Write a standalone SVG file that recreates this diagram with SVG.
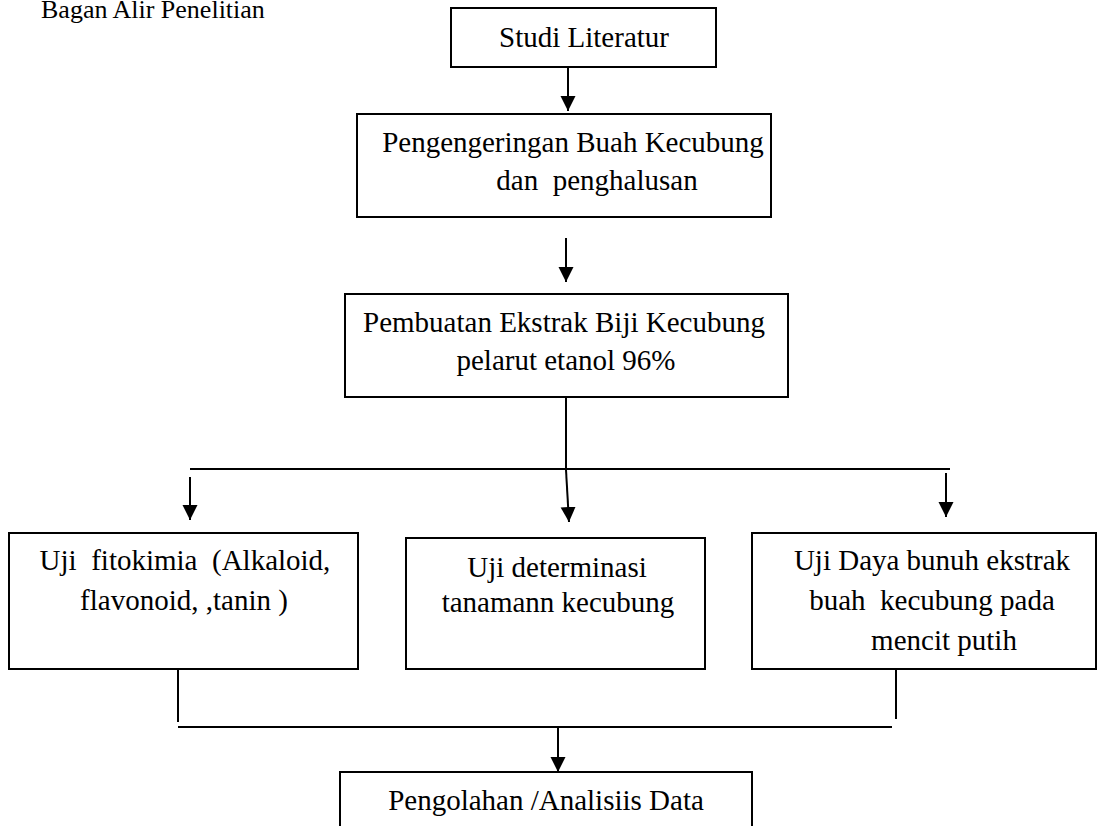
<svg xmlns="http://www.w3.org/2000/svg" width="1101" height="826" viewBox="0 0 1101 826">
<style>
text{font-family:"Liberation Serif","Times New Roman",serif;fill:#000;font-size:29px;text-anchor:middle}
.title{font-size:26px;text-anchor:start}
rect{fill:#fff;stroke:#000;stroke-width:2}
.c line{stroke:#000;stroke-width:2}
</style>
<defs>
<marker id="ah" markerUnits="userSpaceOnUse" markerWidth="16" markerHeight="16" refX="15" refY="7.5" orient="auto">
<path d="M0,0 L15,7.5 L0,15 Z" fill="#000"/>
</marker>
</defs>
<rect x="0" y="0" width="1101" height="826" style="stroke:none;fill:#fff"/>
<text class="title" x="41" y="18">Bagan Alir Penelitian</text>
<g class="c" id="connectors">
<line x1="568" y1="67" x2="568" y2="111" marker-end="url(#ah)"/>
<line x1="566" y1="238" x2="566" y2="282" marker-end="url(#ah)"/>
<line x1="566" y1="397" x2="566" y2="469"/>
<line x1="190" y1="469" x2="950" y2="469"/>
<line x1="190" y1="477" x2="190" y2="520" marker-end="url(#ah)"/>
<line x1="566" y1="470" x2="569" y2="522" marker-end="url(#ah)"/>
<line x1="946" y1="473" x2="946" y2="517" marker-end="url(#ah)"/>
<line x1="178" y1="669" x2="178" y2="722"/>
<line x1="896" y1="667" x2="896" y2="719"/>
<line x1="178" y1="727" x2="892" y2="727"/>
<line x1="558" y1="727" x2="558" y2="772" marker-end="url(#ah)"/>
</g>
<g id="n1"><rect x="451" y="8" width="265" height="59"/><text x="584" y="47">Studi Literatur</text></g>
<g id="n2"><rect x="357" y="114" width="414" height="103"/><text x="573" y="152">Pengengeringan Buah Kecubung</text><text x="597" y="190" xml:space="preserve">dan  penghalusan</text></g>
<g id="n3"><rect x="345" y="294" width="443" height="103"/><text x="564" y="332">Pembuatan Ekstrak Biji Kecubung</text><text x="566" y="370">pelarut etanol 96%</text></g>
<g id="n4"><rect x="9" y="533" width="349" height="136"/><text x="185" y="570" xml:space="preserve">Uji  fitokimia  (Alkaloid,</text><text x="184" y="610">flavonoid, ,tanin )</text></g>
<g id="n5"><rect x="406" y="538" width="299" height="131"/><text x="557" y="577">Uji determinasi</text><text x="558" y="612">tanamann kecubung</text></g>
<g id="n6"><rect x="752" y="533" width="344" height="136"/><text x="932" y="570">Uji Daya bunuh ekstrak</text><text x="932" y="610" xml:space="preserve">buah  kecubung pada</text><text x="944" y="650">mencit putih</text></g>
<g id="n7"><rect x="340" y="772" width="412" height="70"/><text x="546" y="810">Pengolahan /Analisiis Data</text></g>
</svg>
